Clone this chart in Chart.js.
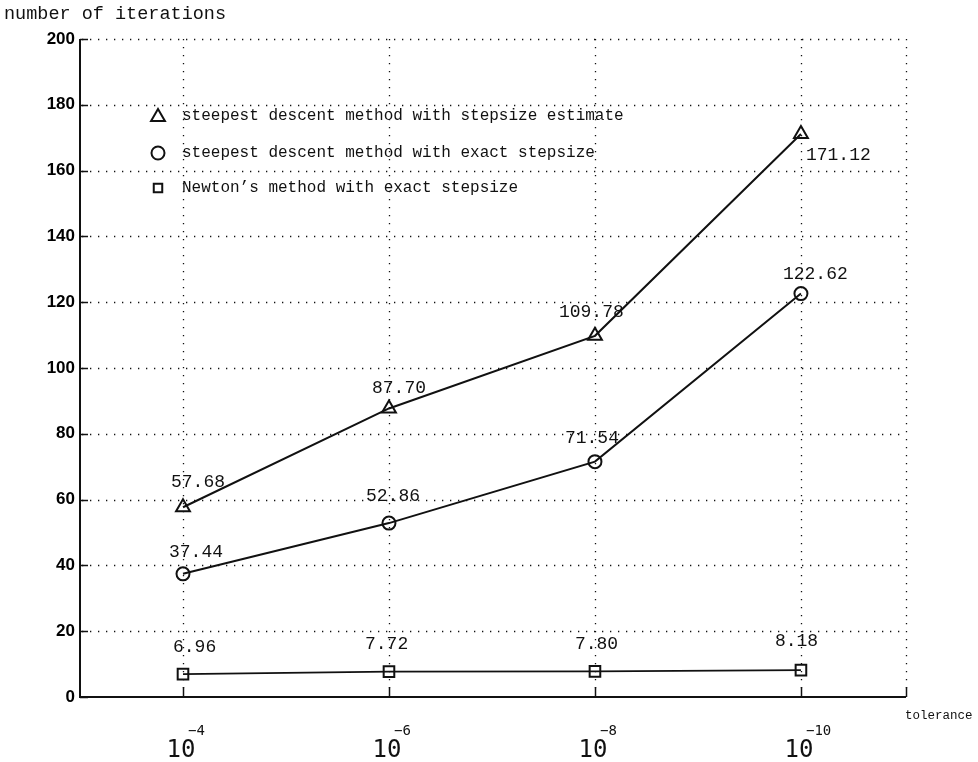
<!DOCTYPE html>
<html>
<head>
<meta charset="utf-8">
<title>Iterations vs tolerance</title>
<script src="https://cdn.jsdelivr.net/npm/chart.js@4/dist/chart.umd.min.js"></script>
<style>
  html, body { margin: 0; padding: 0; background: #fff; }
  canvas { display: block; }
</style>
</head>
<body>
<canvas id="chart" width="978" height="762"></canvas>
<script>
// Tolerances 10^-4 ... 10^-10, placed at evenly spaced positions
const tolPositions = [1, 2, 3, 4];
const tolExponents = ['-4', '-6', '-8', '-10'];

// Average number of iterations for each method
const steepestEstimate = [57.68, 87.70, 109.78, 171.12];
const steepestExact    = [37.44, 52.86, 71.54, 122.62];
const newtonExact      = [6.96, 7.72, 7.80, 8.18];

const seriesNames = [
  'steepest descent method with stepsize estimate',
  'steepest descent method with exact stepsize',
  "Newton\u2019s method with exact stepsize"
];

const yTickValues = [0, 20, 40, 60, 80, 100, 120, 140, 160, 180, 200];

// Where each value label sits relative to its marker (left edge, vertical centre)
const labelOffsets = [
  [[-12, -25], [-17, -20], [-36, -24], [5, 21]],
  [[-14, -22], [-23, -27], [-30, -23], [-18, -19]],
  [[-10, -27], [-24, -27], [-20, -27], [-26, -29]]
];

const MONO = '"Liberation Mono", "DejaVu Sans Mono", monospace';
const INK = '#111';
const NONE = 'rgba(0,0,0,0)';

function toPoints(values) {
  return tolPositions.map((x, i) => ({ x: x, y: values[i] }));
}

const markerStyles = [
  { pointStyle: 'triangle', pointRadius: 8, borderWidth: 2 },
  { pointStyle: 'circle', pointRadius: 6.5, borderWidth: 2 },
  { pointStyle: 'rect', pointRadius: 7.5, borderWidth: 1.6 }
];

const seriesValues = [steepestEstimate, steepestExact, newtonExact];

const datasets = seriesValues.map((vals, k) => ({
  label: seriesNames[k],
  data: toPoints(vals),
  borderColor: INK,
  backgroundColor: NONE,
  borderWidth: markerStyles[k].borderWidth,
  pointStyle: markerStyles[k].pointStyle,
  pointRadius: markerStyles[k].pointRadius,
  pointBorderWidth: 2,
  pointBorderColor: INK,
  pointBackgroundColor: NONE,
  tension: 0,
  fill: false,
  clip: false
}));

// Frame, dotted grid and inward tick marks
const framePlugin = {
  id: 'frame',
  beforeDatasetsDraw(chart) {
    const { ctx, chartArea: a, scales } = chart;
    const xs = scales.x, ys = scales.y;
    ctx.save();
    // dotted grid
    ctx.strokeStyle = INK;
    ctx.lineWidth = 1.3;
    ctx.setLineDash([1.3, 6.7]);
    yTickValues.forEach(v => {
      if (v === 0) return;
      const y = Math.round(ys.getPixelForValue(v)) + 0.5;
      ctx.beginPath();
      ctx.moveTo(a.left + 2, y);
      ctx.lineTo(a.right, y);
      ctx.stroke();
    });
    const vx = tolPositions.map(p => xs.getPixelForValue(p)).concat([a.right]);
    vx.forEach(px => {
      const x = Math.round(px) + 0.5;
      ctx.beginPath();
      ctx.moveTo(x, a.top);
      ctx.lineTo(x, a.bottom - 2);
      ctx.stroke();
    });
    ctx.setLineDash([]);

    // solid left and bottom axes
    ctx.lineWidth = 2;
    ctx.beginPath();
    ctx.moveTo(a.left, a.top);
    ctx.lineTo(a.left, a.bottom);
    ctx.lineTo(a.right, a.bottom);
    ctx.stroke();

    // inward tick marks
    ctx.lineWidth = 1.5;
    yTickValues.forEach(v => {
      const y = Math.round(ys.getPixelForValue(v)) + 0.5;
      ctx.beginPath();
      ctx.moveTo(a.left, y);
      ctx.lineTo(a.left + 8, y);
      ctx.stroke();
    });
    vx.forEach(px => {
      const x = Math.round(px) + 0.5;
      ctx.beginPath();
      ctx.moveTo(x, a.bottom);
      ctx.lineTo(x, a.bottom - 10);
      ctx.stroke();
    });
    ctx.restore();
  }
};

// Value labels, legend, axis captions and the 10^n tick labels
const textPlugin = {
  id: 'texts',
  afterDatasetsDraw(chart) {
    const { ctx, scales } = chart;
    const xs = scales.x, ys = scales.y;
    ctx.save();
    ctx.fillStyle = INK;
    ctx.textBaseline = 'middle';
    ctx.textAlign = 'left';

    // values beside each marker
    ctx.font = '18px ' + MONO;
    seriesValues.forEach((vals, k) => {
      vals.forEach((v, i) => {
        const px = xs.getPixelForValue(tolPositions[i]);
        const py = ys.getPixelForValue(v);
        const off = labelOffsets[k][i];
        ctx.fillText(v.toFixed(2), px + off[0], py + off[1]);
      });
    });

    // legend inside the plot: hollow markers followed by the series names
    const legendRows = [116, 153, 188];
    const legendRadius = [8, 6.5, 6];
    seriesNames.forEach((name, k) => {
      ctx.strokeStyle = INK;
      ctx.fillStyle = NONE;
      ctx.lineWidth = 2;
      Chart.helpers.drawPoint(ctx, {
        pointStyle: markerStyles[k].pointStyle,
        radius: legendRadius[k],
        borderWidth: 2,
        rotation: 0
      }, 158, legendRows[k] + (k === 0 ? 1 : 0));
      ctx.fillStyle = INK;
      ctx.font = '16px ' + MONO;
      ctx.fillText(name, 182, legendRows[k]);
    });

    // axis captions
    ctx.fillStyle = INK;
    ctx.font = '18.5px ' + MONO;
    ctx.fillText('number of iterations', 4, 14);
    ctx.font = '12.5px ' + MONO;
    ctx.fillText('tolerance', 905, 716);

    // 10^n labels under the x axis
    ctx.textBaseline = 'alphabetic';
    tolPositions.forEach((p, i) => {
      const px = xs.getPixelForValue(p);
      ctx.font = '24px "DejaVu Sans Mono", monospace';
      ctx.textAlign = 'center';
      ctx.fillText('10', px - 2, 757);
      ctx.font = '14px "DejaVu Sans Mono", monospace';
      ctx.textAlign = 'left';
      ctx.fillText(tolExponents[i].replace('-', '\u2212'), px + 5, 735);
    });
    ctx.restore();
  }
};

new Chart(document.getElementById('chart'), {
  type: 'line',
  data: { datasets: datasets },
  options: {
    responsive: false,
    animation: false,
    devicePixelRatio: 1,
    layout: { padding: { top: 39, right: 72, left: 0, bottom: 0 } },
    plugins: { legend: { display: false }, tooltip: { enabled: false } },
    scales: {
      x: {
        type: 'linear',
        min: 0.5,
        max: 4.51,
        ticks: { display: false },
        grid: { display: false, drawTicks: false },
        border: { display: false },
        afterFit(s) { s.height = 65; }
      },
      y: {
        type: 'linear',
        min: 0,
        max: 200,
        ticks: {
          stepSize: 20,
          padding: 5,
          color: '#000',
          font: { family: '"Liberation Sans", Arial, sans-serif', size: 17, weight: 'bold' }
        },
        grid: { display: false, drawTicks: false },
        border: { display: false },
        afterFit(s) { s.width = 80; }
      }
    }
  },
  plugins: [framePlugin, textPlugin]
});
</script>
</body>
</html>
